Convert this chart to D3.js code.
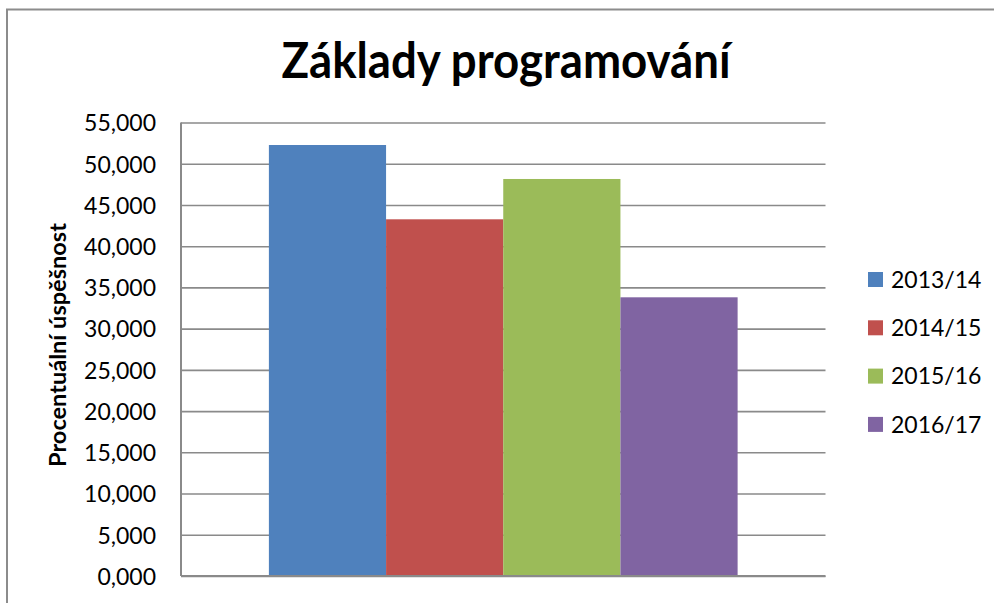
<!DOCTYPE html>
<html>
<head>
<meta charset="utf-8">
<script src="https://cdn.jsdelivr.net/npm/d3@7"></script>
<style>
  body { margin: 0; background: #fff; }
  text { font-family: Lato, "Open Sans", sans-serif; fill: #000; }
</style>
</head>
<body>
<div id="bar"></div>
<script>
// data (percent, Czech decimal comma)
const title = "Základy programování"
const yLabel = "Procentuální úspěšnost"
const series = ["2013/14", "2014/15", "2015/16", "2016/17"]
const values = [52.27, 43.26, 48.15, 33.80]
const colors = ["#4F81BD", "#C0504D", "#9BBB59", "#8064A2"]
const yTicks = [0, 5, 10, 15, 20, 25, 30, 35, 40, 45, 50, 55]

const W = 994, H = 603
const margin = {top: 122.5, right: 168.5, bottom: 27, left: 181}
const width = W - margin.left - margin.right
const height = H - margin.top - margin.bottom

const cz = d3.formatLocale({decimal: ",", thousands: "\u00a0", grouping: [3], currency: ["", " Kč"]})
const fmt = cz.format(".3f")

const root = d3.select("#bar")
    .append("svg")
    .attr("width", W)
    .attr("height", H)

// outer chart border (only top/left edges are in frame)
root.append("rect")
    .attr("x", 7).attr("y", 9.5)
    .attr("width", 1100).attr("height", 800)
    .attr("fill", "none")
    .attr("stroke", "#8c8c8c")
    .attr("stroke-width", 2)

root.append("text")
    .attr("x", 506)
    .attr("y", 78)
    .attr("text-anchor", "middle")
    .style("font-size", "49px")
    .style("font-weight", "bold")
    .attr("textLength", 449)
    .attr("lengthAdjust", "spacingAndGlyphs")
    .text(title)

const svg = root.append("g")
    .attr("transform", `translate(${margin.left},${margin.top})`)

const x = d3.scaleBand()
    .domain(series)
    .range([0, width])
    .paddingInner(0)
    .paddingOuter(0.75)

const y = d3.scaleLinear()
    .domain([0, 55])
    .range([height, 0])

// gridlines + tick labels
const yAxis = svg.append("g")
    .call(d3.axisLeft(y).tickValues(yTicks).tickSize(-width).tickFormat(fmt))
yAxis.select(".domain").remove()
yAxis.selectAll(".tick line")
    .attr("stroke", "#8a8a8a")
    .attr("stroke-width", 1.6)
yAxis.selectAll(".tick text")
    .attr("x", -25)
    .attr("dy", "0.36em")
    .style("font-size", "23px")
    .style("font-family", "Lato, sans-serif")
    .attr("fill", "#000")

// left axis line
svg.append("line")
    .attr("x1", 0).attr("x2", 0)
    .attr("y1", 0).attr("y2", height)
    .attr("stroke", "#8a8a8a")
    .attr("stroke-width", 2)

// bars
svg.append("g")
    .selectAll("rect")
    .data(series.map((s, i) => ({key: s, value: values[i], color: colors[i]})))
    .join("rect")
    .attr("x", d => x(d.key))
    .attr("y", d => y(d.value))
    .attr("width", x.bandwidth())
    .attr("height", d => height - y(d.value))
    .attr("fill", d => d.color)

// bottom axis line
svg.append("line")
    .attr("x1", 0).attr("x2", width)
    .attr("y1", height).attr("y2", height)
    .attr("stroke", "#8a8a8a")
    .attr("stroke-width", 2)

// y axis title
root.append("text")
    .attr("transform", `translate(66,345) rotate(-90)`)
    .attr("text-anchor", "middle")
    .style("font-size", "22.5px")
    .style("font-weight", "bold")
    .attr("textLength", 244)
    .attr("lengthAdjust", "spacingAndGlyphs")
    .text(yLabel)

// legend
const legend = root.append("g")
    .attr("transform", "translate(868,272)")
    .selectAll("g")
    .data(series)
    .join("g")
    .attr("transform", (d, i) => `translate(0,${i * 48.3})`)
legend.append("rect")
    .attr("width", 15).attr("height", 15)
    .attr("fill", (d, i) => colors[i])
legend.append("text")
    .attr("x", 23)
    .attr("y", 7.5)
    .attr("dy", "0.36em")
    .style("font-size", "23px")
    .text(d => d)
</script>
</body>
</html>
